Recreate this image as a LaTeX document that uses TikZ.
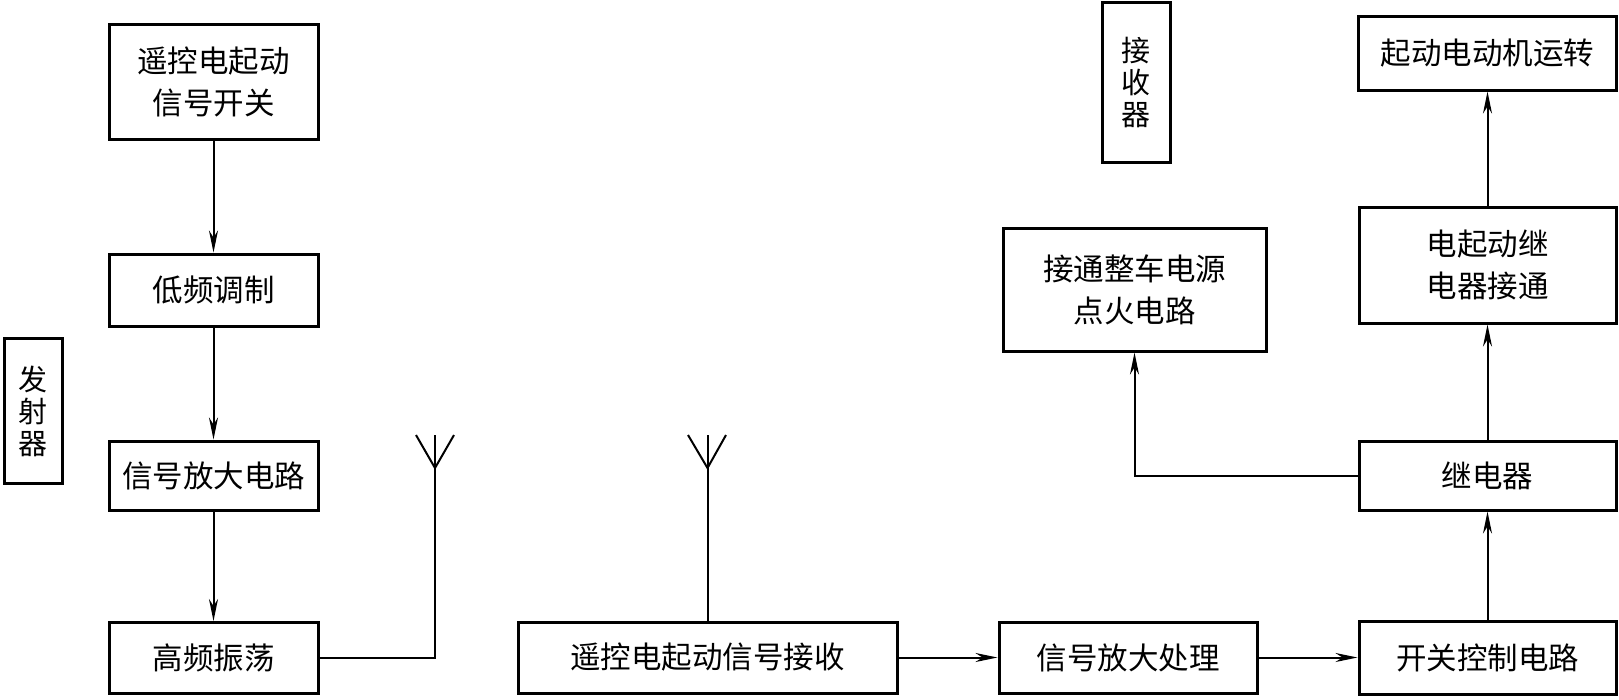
\documentclass[tikz,border=0pt]{standalone}
\usepackage{fontspec}
\newfontfamily\cjk{Noto Sans CJK SC}
\usetikzlibrary{arrows.meta}

\begin{document}
\begin{tikzpicture}[x=1pt, y=-1pt, >={Stealth[length=22pt,width=9pt,inset=7pt]},
    font=\cjk\fontsize{30.5}{42}\selectfont,
    box/.style={draw, line width=3pt, align=center, inner sep=0pt},
    tag/.style={box, font=\cjk\fontsize{29}{32}\selectfont},
    link/.style={line width=2pt}]
  \useasboundingbox (0,0) rectangle (1619,699);

  % transmitter side
  \node[tag, minimum width=58pt, minimum height=145pt] (tx) at (33,411) {发\\射\\器};
  \node[box, minimum width=209pt, minimum height=115pt] (sw) at (213.5,81.5) {遥控电起动\\信号开关};
  \node[box, minimum width=209pt, minimum height=72pt] (lf) at (213.5,290) {低频调制};
  \node[box, minimum width=209pt, minimum height=69pt] (amp) at (213.5,475.5) {信号放大电路};
  \node[box, minimum width=209pt, minimum height=71pt] (osc) at (213.5,658) {高频振荡};

  \draw[link,->] (sw) -- (lf);
  \draw[link,->] (lf) -- (amp);
  \draw[link,->] (amp) -- (osc);

  % antennas
  \coordinate (ta) at (435,435);
  \coordinate (tf) at (435,468);
  \draw[link] (osc.east) -| (ta);
  \draw[link] (416,435) -- (tf) -- (454,435);

  \coordinate (ra) at (707.5,435);
  \coordinate (rf) at (707.5,468);
  \draw[link] (688,435) -- (rf) -- (726,435);

  % receiver side
  \node[tag, minimum width=68pt, minimum height=160pt] (rx) at (1136,82) {接\\收\\器};
  \node[box, minimum width=379pt, minimum height=71pt] (rcv) at (707.5,657.5) {遥控电起动信号接收};
  \node[box, minimum width=258pt, minimum height=71pt] (proc) at (1128,657.5) {信号放大处理};
  \node[box, minimum width=257pt, minimum height=73pt] (ctl) at (1487.5,657.5) {开关控制电路};
  \node[box, minimum width=257pt, minimum height=69pt] (relay) at (1487.5,475.5) {继电器};
  \node[box, minimum width=257pt, minimum height=116pt] (on) at (1487.5,265) {电起动继\\电器接通};
  \node[box, minimum width=258pt, minimum height=74pt] (motor) at (1487.5,53) {起动电动机运转};
  \node[box, minimum width=263pt, minimum height=123pt] (ign) at (1134.5,289.5) {接通整车电源\\点火电路};

  \draw[link] (rcv.north) -- (ra);
  \draw[link,->] (rcv) -- (proc);
  \draw[link,->] (proc) -- (ctl);
  \draw[link,->] (ctl) -- (relay);
  \draw[link,->] (relay) -- (on);
  \draw[link,->] (on) -- (motor);
  \draw[link,->] (relay.west) -| (ign.south);
\end{tikzpicture}
\end{document}
